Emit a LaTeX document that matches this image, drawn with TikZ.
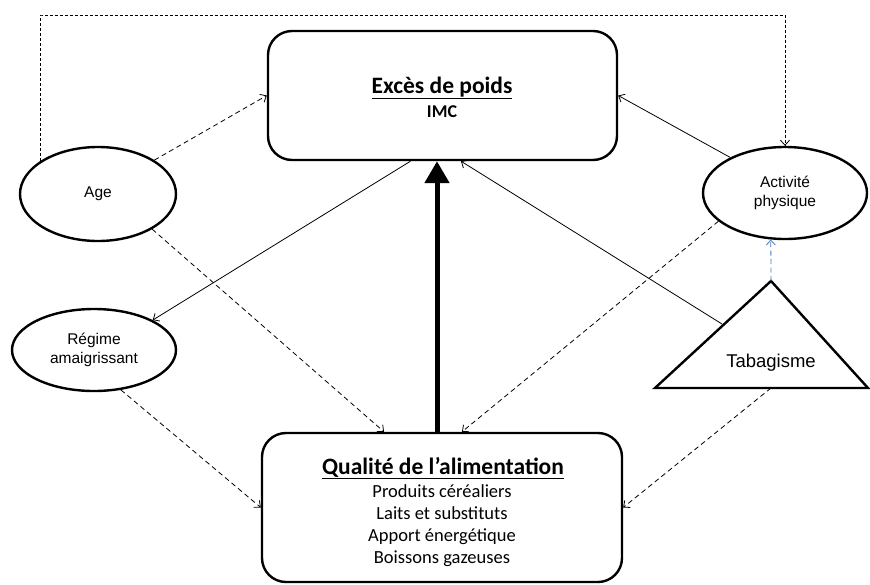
\documentclass[tikz,border=0pt]{standalone}
\usepackage{fontspec}
\setmainfont{Carlito}
\newfontfamily\arialf{Liberation Sans}
\usetikzlibrary{arrows.meta,shapes.geometric}
\definecolor{linkblue}{HTML}{4A7EBB}
\tikzset{
  bigbox/.style={draw, line width=2.4pt, rounded corners=24pt, inner sep=0pt},
  oval/.style={draw, ellipse, line width=2.4pt, inner sep=0pt, align=center, font=\arialf\fontsize{15.5}{19}\selectfont},
  thinarrow/.style={line width=0.8pt, -{Straight Barb[length=5pt,width=9pt]}},
  dasharrow/.style={thinarrow, dash pattern=on 5pt off 3.5pt},
  loopline/.style={thinarrow, dash pattern=on 3pt off 2pt},
  bigarrow/.style={line width=5pt, -{Triangle[length=22pt,width=24pt]}},
  titletext/.style={font=\bfseries\fontsize{23.5}{28}\selectfont, anchor=base},
  subtext/.style={font=\fontsize{18.5}{22}\selectfont, anchor=base},
}
\begin{document}
\begin{tikzpicture}[x=1pt,y=-1pt]
\useasboundingbox (0,0) rectangle (870,584);
% boxes
\node[bigbox, minimum width=349pt, minimum height=129pt] (top) at (442.5,95.5) {};
\node[titletext] (toptitle) at (442,93) {\underline{Excès de poids}};
\node[font=\bfseries\fontsize{18}{22}\selectfont, anchor=base] (imc) at (442,117) {IMC};
\node[bigbox, minimum width=360pt, minimum height=149pt] (bot) at (442,507.5) {};
\node[titletext] (bottitle) at (443,474) {\underline{Qualité de l’alimentation}};
\node[subtext] (l1) at (442,497) {Produits céréaliers};
\node[subtext] (l2) at (442,519) {Laits et substituts};
\node[subtext] (l3) at (442,541) {Apport énergétique};
\node[subtext] (l4) at (442,563) {Boissons gazeuses};
% ellipses
\node[oval, minimum width=156pt, minimum height=94pt] (age) at (98,194) {Age};
\node[oval, minimum width=164pt, minimum height=92pt] (act) at (785,193) {Activité\\physique};
\node[oval, minimum width=164pt, minimum height=82pt] (reg) at (94,350) {Régime\\amaigrissant};
% triangle
\coordinate (tabapex) at (771,281);
\coordinate (tabL) at (655,388);
\coordinate (tabR) at (868,388);
\coordinate (tabbase) at (771,388);
\coordinate (tabside) at (722,324);
\draw[line width=2.4pt, line join=miter] (tabapex) -- (tabR) -- (tabL) -- cycle;
\node[font=\arialf\fontsize{18.5}{22}\selectfont] (tab) at (771,363) {Tabagisme};
% connectors
\coordinate (looptl) at (41,15);
\draw[loopline] (age.150) |- (looptl) -| (act.north);
\draw[dasharrow] (age.31) -- (top.west);
\draw[dasharrow] (age.-33) -- ([xshift=-58pt]bot.north);
\draw[thinarrow] ([xshift=-32pt]top.south) -- (reg.27);
\draw[thinarrow] (act.147) -- (top.east);
\draw[dasharrow] (act.203) -- ([xshift=20pt]bot.north);
\draw[thinarrow] (tabside) -- ([xshift=18.5pt]top.south);
\draw[dasharrow, draw=linkblue] (tabapex) -- (act.-107);
\draw[dasharrow] (tabbase) -- (bot.east);
\draw[dasharrow] (reg.-56) -- (bot.west);
\draw[bigarrow] ([xshift=-5pt]bot.north) -- ([xshift=-5.5pt]top.south);
\end{tikzpicture}
\end{document}
